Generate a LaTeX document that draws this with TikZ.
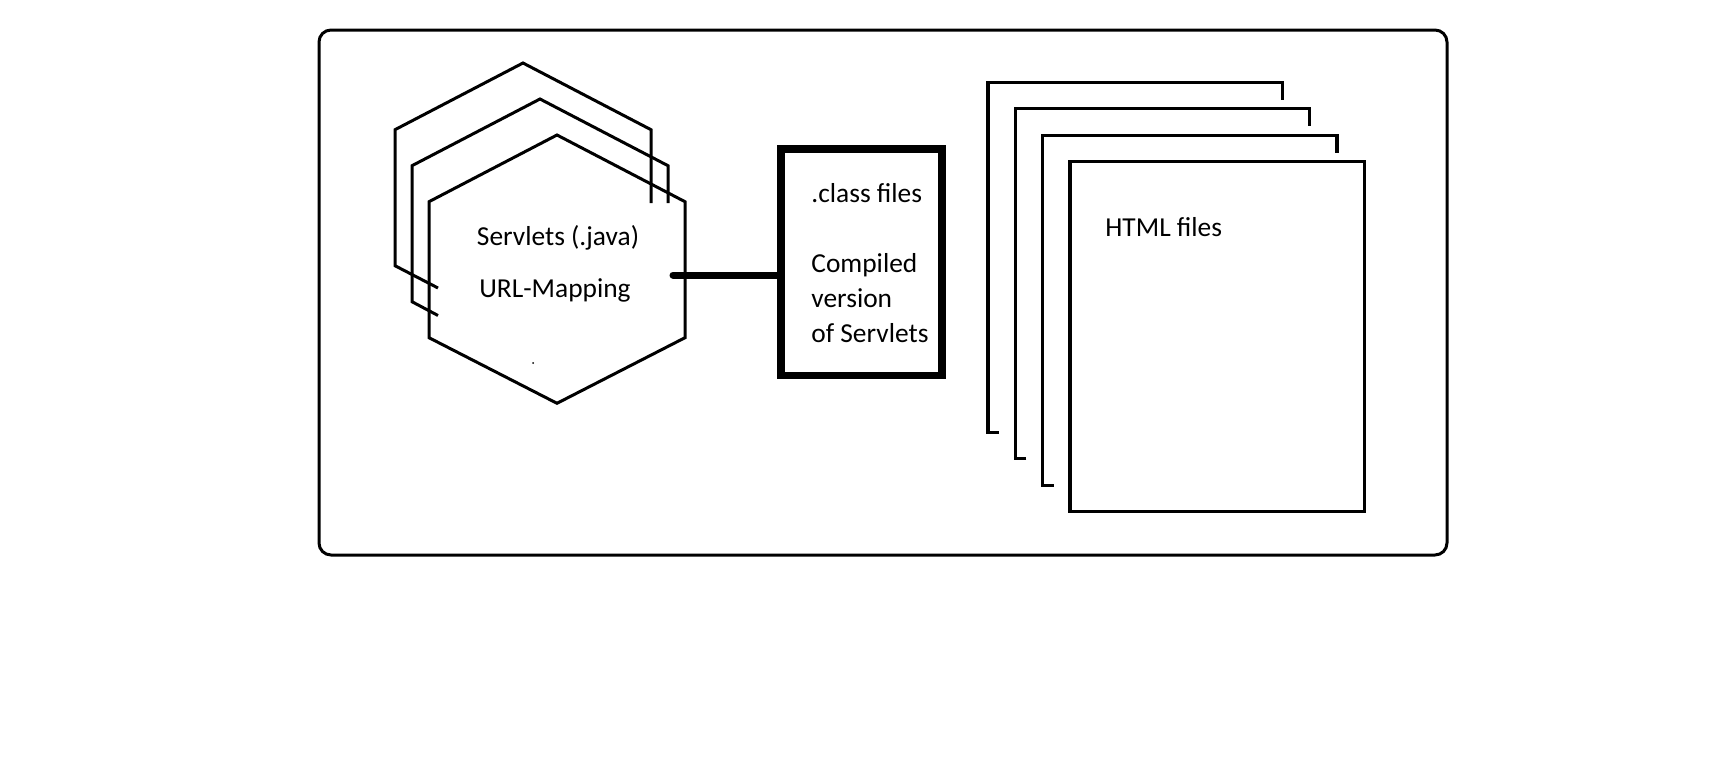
\documentclass[tikz,border=0pt]{standalone}
\usepackage{fontspec}
\setmainfont{Carlito}
\usetikzlibrary{positioning}

\tikzset{
  thinline/.style={line width=1.5pt},
  pageline/.style={line width=1.7pt},
  txt/.style={font=\fontsize{13.7}{17.5}\selectfont, inner sep=0pt},
}

\begin{document}
\begin{tikzpicture}[x=0.5pt,y=-0.5pt]
  \useasboundingbox (0,0) rectangle (1731,760);
  % container
  \draw[thinline,rounded corners=6pt] (319,30) rectangle (1447,555);
  % servlet hexagons
  \draw[thinline] (438,288) -- (395,265.7) -- (395,129.7) -- (523,63) -- (651,129.7) -- (651,203);
  \draw[thinline] (438,315.5) -- (412,301.7) -- (412,165.7) -- (540,99) -- (668,165.7) -- (668,203);
  \draw[thinline] (557,135) -- (685,201.7) -- (685,337.7) -- (557,403.3) -- (429,337.7) -- (429,201.7) -- cycle;
  \fill (533,363) circle (1);
  \node[txt] (servlets) at (558,238) {Servlets (.java)};
  \node[txt] (urlmap) at (555,290) {URL-Mapping};
  % compiled classes
  \node[draw,line width=3.75pt,minimum width=80.5pt,minimum height=113.25pt,inner sep=0pt] (classbox) at (861.5,262.3) {};
  \node[txt,anchor=west] (classfiles) at (811,193) {.class files};
  \node[txt,anchor=west,align=left] (compiled) at (811,298) {Compiled\\version\\of Servlets};
  \coordinate (hexout) at (673,275);
  \draw[line width=3.5pt,line cap=round] (hexout) -- (hexout -| classbox.west);
  % html pages
  \foreach \k in {3,2,1}
    \draw[pageline,shift={(-27.3*\k,-26.5*\k)}] (1081,511.7) -- (1070,511.7) -- (1070,161.7) -- (1364.3,161.7) -- (1364.3,179);
  \draw[pageline] (1070,161.7) rectangle (1364.3,511.7);
  \node[txt,anchor=west] (html) at (1105,227) {HTML files};
\end{tikzpicture}
\end{document}
